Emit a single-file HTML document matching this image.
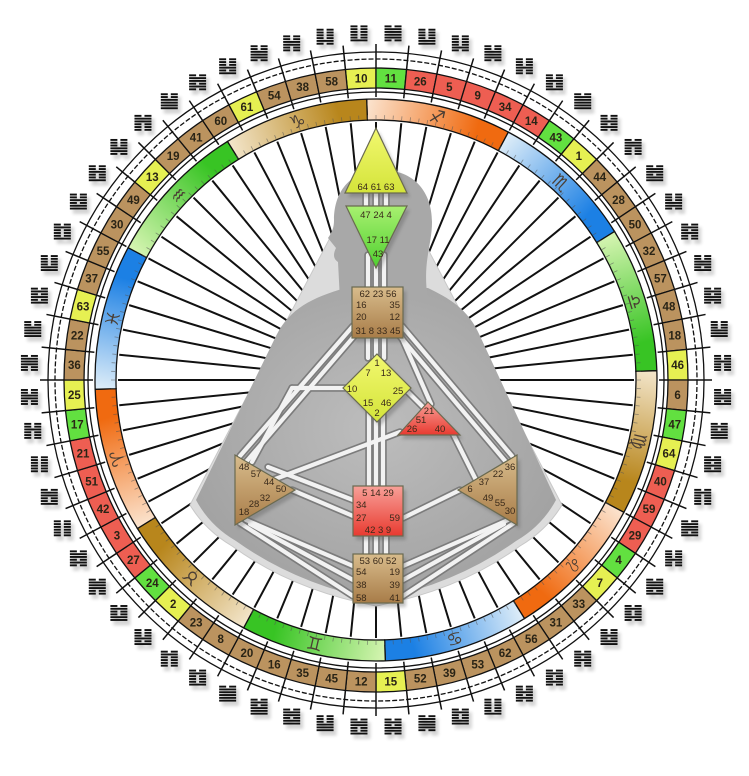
<!DOCTYPE html>
<html><head><meta charset="utf-8"><style>
html,body{margin:0;padding:0;background:#fff;width:749px;height:776px;overflow:hidden}
svg{display:block}
text{font-family:"Liberation Sans","DejaVu Sans",sans-serif}
</style></head><body>
<svg id="s" width="749" height="776" viewBox="0 0 749 776" xmlns="http://www.w3.org/2000/svg">
<defs>
<filter id="bl" x="-50%" y="-50%" width="200%" height="200%"><feGaussianBlur stdDeviation="1.6"/></filter>
<radialGradient id="dk" cx="50%" cy="45%" r="60%"><stop offset="0" stop-color="#bdbdbd"/><stop offset="1" stop-color="#a0a0a0"/></radialGradient>
<linearGradient id="gy" x1="0" y1="0" x2="0" y2="1"><stop offset="0" stop-color="#f2f870"/><stop offset="1" stop-color="#d4e43a"/></linearGradient>
<linearGradient id="gg" x1="0" y1="0" x2="0" y2="1"><stop offset="0" stop-color="#a8f070"/><stop offset="1" stop-color="#4fd030"/></linearGradient>
<linearGradient id="gr" x1="0" y1="0" x2="0" y2="1"><stop offset="0" stop-color="#f8a098"/><stop offset="1" stop-color="#e83a30"/></linearGradient>
<linearGradient id="gb" x1="0" y1="0" x2="0" y2="1"><stop offset="0" stop-color="#d8bc8c"/><stop offset="1" stop-color="#a87c48"/></linearGradient>
</defs>
<g id="root"></g>
</svg>
<script>
(function(){
var NS="http://www.w3.org/2000/svg",root=document.getElementById('root'),defs=document.querySelector('defs');
var cx=376,cy=380;
function P(r,a){var t=a*Math.PI/180;return [cx+r*Math.sin(t),cy-r*Math.cos(t)];}
function el(n,at,par,txt){var e=document.createElementNS(NS,n);for(var k in at)e.setAttribute(k,at[k]);(par||root).appendChild(e);if(txt!=null)e.textContent=txt;return e;}
function sector(r1,r2,a1,a2){var A=P(r2,a1),B=P(r2,a2),C=P(r1,a2),D=P(r1,a1);var lg=(a2-a1)>180?1:0;
return "M"+A[0]+" "+A[1]+"A"+r2+" "+r2+" 0 "+lg+" 1 "+B[0]+" "+B[1]+"L"+C[0]+" "+C[1]+"A"+r1+" "+r1+" 0 "+lg+" 0 "+D[0]+" "+D[1]+"Z";}
var gates=[10,11,26,5,9,34,14,43,1,44,28,50,32,57,48,18,46,6,47,64,40,59,29,4,7,33,31,56,62,53,39,52,15,12,45,35,16,20,8,23,2,24,27,3,42,51,21,17,25,36,22,63,37,55,30,49,13,19,41,60,61,54,38,58];
var Y=[64,61,63,1,7,13,10,25,46,2,15],G=[47,24,4,17,11,43],R=[21,51,26,40,5,14,29,34,27,59,42,3,9];
function col(g){if(Y.indexOf(g)>=0)return "#e6f052";if(G.indexOf(g)>=0)return "#62e040";if(R.indexOf(g)>=0)return "#ee5e52";return "#bb935f";}
var st=5.625;
for(var i=0;i<64;i++){var a=i*st,p1=P(258,a),p2=P(40,a);el('line',{x1:p1[0],y1:p1[1],x2:p2[0],y2:p2[1],stroke:'#111','stroke-width':2});}
for(var i=0;i<64;i++){var a=i*st,p1=P(336,a),p2=P(283,a);el('line',{x1:p1[0],y1:p1[1],x2:p2[0],y2:p2[1],stroke:'#111','stroke-width':1.5});}
for(var i=0;i<64;i++){var g=gates[i];el('path',{d:sector(292,312,(i-1)*st,i*st),fill:col(g),stroke:'#111','stroke-width':1.3});
var c=P(302,(i-0.5)*st);el('text',{x:c[0],y:c[1]+4,'text-anchor':'middle','font-size':'11.5','font-weight':'bold',fill:'#2a2416'},null,g);}
el('circle',{cx:cx,cy:cy,r:288,fill:'none',stroke:'#111','stroke-width':1.3});
el('circle',{cx:cx,cy:cy,r:321,fill:'none',stroke:'#111','stroke-width':1.3,'stroke-dasharray':'5 2'});
el('circle',{cx:cx,cy:cy,r:328,fill:'none',stroke:'#111','stroke-width':1.3});
var signs=[["♐","f"],["♏","w"],["♎","a"],["♍","e"],["♌","f"],["♋","w"],["♊","a"],["♉","e"],["♈","f"],["♓","w"],["♒","a"],["♑","e"]];
var cc={f:["#fbe2cc","#f06a10"],w:["#dcecf8","#1c80e4"],a:["#d4f4b0","#38c424"],e:["#f2e4c8","#b8861c"]};
for(var k=0;k<12;k++){var a1=-1.9+30*k,a2=a1+30,c=cc[signs[k][1]];var s=P(270,a1),e=P(270,a2);
var id='z'+k;var lg=el('linearGradient',{id:id,gradientUnits:'userSpaceOnUse',x1:s[0],y1:s[1],x2:e[0],y2:e[1]},defs);
el('stop',{offset:'0','stop-color':c[0]},lg);el('stop',{offset:'0.8','stop-color':c[1]},lg);el('stop',{offset:'1','stop-color':c[1]},lg);
el('path',{d:sector(260,281,a1,a2),fill:'url(#'+id+')',stroke:'#111','stroke-width':1.3});
var m=(a1+a2)/2,p=P(270,m);el('text',{x:p[0],y:p[1]+6,'text-anchor':'middle','font-size':'18',fill:'#4a3e34','font-family':'DejaVu Sans',transform:'rotate('+m+' '+p[0]+' '+p[1]+')'},null,signs[k][0]);}
for(var t=0;t<360;t+=1.875){var p1=P(261,t),p2=P(265,t);el('line',{x1:p1[0],y1:p1[1],x2:p2[0],y2:p2[1],stroke:'#555','stroke-width':0.8,opacity:0.6});}
for(var i=0;i<64;i++){var g=gates[i],c=P(347,(i-0.5)*st),x0=c[0]-8.5,y0=c[1]-8;
var gs=el('g',{transform:'translate(3,4)',opacity:0.3,filter:'url(#bl)'});var gm=el('g',{});
for(var l=0;l<6;l++){var b=((g*7+l*3+(g>>l))&1),yy=y0+l*2.8;
[gs,gm].forEach(function(pr){var f=pr===gs?'#333':'#111';if(b){el('rect',{x:x0,y:yy,width:17,height:1.9,fill:f},pr);}else{el('rect',{x:x0,y:yy,width:7,height:1.9,fill:f},pr);el('rect',{x:x0+10,y:yy,width:7,height:1.9,fill:f},pr);}});}}
el('path',{d:"M376 150 L190 505 Q205 530 232 546 Q292 590 376 606 Q460 590 520 546 Q547 530 562 505 Z",fill:'#dcdcdc',stroke:'#c8c8c8'});
el('path',{d:"M345 288 C312 298 290 308 276 336 L196 500 Q210 526 236 541 Q296 584 376 600 Q456 584 516 541 Q542 526 556 500 L480 336 C468 308 448 298 428 288 Z",fill:'url(#dk)'});
el('path',{d:"M340 300 L338 262 C332 258 334 252 336 248 L328 238 C332 232 334 228 334 220 C334 190 352 170 382 170 C414 170 432 192 432 222 C432 246 422 262 428 300 Z",fill:'#a8a8a8'});
var ch=[[366,190,366,206],[376,190,376,206],[386,190,386,206],[368,255,368,287],[376,262,376,287],[384,255,384,287],
[368,338,368,358],[376,338,376,355],[384,338,384,358],[369,410,369,486],[376,420,376,486],[383,410,383,486],
[366,536,366,554],[376,536,376,554],[386,536,386,554],
[356,334,246,462],[353,326,240,456],[398,334,506,462],[402,326,512,456],[401,336,431,404],
[346,388,292,388],[292,388,252,462],[408,392,424,408],[400,432,270,481],[452,432,476,480],
[292,490,353,516],[268,467,353,500],[460,490,403,518],
[353,566,246,520],[353,580,250,524],[353,596,240,523],[403,566,508,520],[403,580,504,524],[403,596,514,523]];
[['#7c7c7c',7.5],['#f2f2f2',4.2]].forEach(function(s){ch.forEach(function(c){el('line',{x1:c[0],y1:c[1],x2:c[2],y2:c[3],stroke:s[0],'stroke-width':s[1],'stroke-linecap':'round'});});});
var sk={stroke:'#6a6a50','stroke-width':1.2};
function sh(tag,at){var a=JSON.parse(JSON.stringify(at));a.fill='#555';a.opacity=0.35;a.transform='translate(3,4)';a.filter='url(#bl)';el(tag,a);var b=Object.assign({},at,sk);el(tag,b);}
sh('polygon',{points:"376,128 345,193 407,193",fill:'url(#gy)'});
sh('polygon',{points:"346,206 407,206 376,268",fill:'url(#gg)'});
sh('rect',{x:352,y:287,width:51,height:51,fill:'url(#gb)'});
sh('polygon',{points:"377,354 411,388 377,422 343,388",fill:'url(#gy)'});
sh('polygon',{points:"428,402 398,435 460,435",fill:'url(#gr)'});
sh('polygon',{points:"235,455 235,525 295,490",fill:'url(#gb)'});
sh('polygon',{points:"517,455 517,525 458,490",fill:'url(#gb)'});
sh('rect',{x:353,y:486,width:50,height:50,fill:'url(#gr)'});
sh('rect',{x:353,y:554,width:50,height:49,fill:'url(#gb)'});
var T=[["64 61 63",376,190,'m'],["47 24  4",376,218,'m'],["17 11",378,243,'m'],["43",378,257,'m'],
["62 23 56",378,297,'m'],["16",356,308,'s'],["35",400,308,'e'],["20",356,320,'s'],["12",400,320,'e'],["31 8 33 45",378,334,'m'],
["1",377,366,'m'],["7",368,376,'m'],["13",386,376,'m'],["10",352,392,'m'],["25",398,394,'m'],["15",368,406,'m'],["46",386,406,'m'],["2",377,416,'m'],
["21",429,414,'m'],["51",421,423,'m'],["26",412,432,'m'],["40",440,432,'m'],
["48",244,470,'m'],["57",256,477,'m'],["44",269,485,'m'],["50",281,492,'m'],["32",265,501,'m'],["28",254,507,'m'],["18",244,515,'m'],
["36",510,470,'m'],["22",498,477,'m'],["37",484,485,'m'],["6",470,492,'m'],["49",488,501,'m'],["55",500,506,'m'],["30",510,514,'m'],
["5 14 29",378,496,'m'],["34",356,508,'s'],["27",356,521,'s'],["59",400,521,'e'],["42 3 9",378,533,'m'],
["53 60 52",378,564,'m'],["54",356,575,'s'],["19",400,575,'e'],["38",356,588,'s'],["39",400,588,'e'],["58",356,601,'s'],["41",400,601,'e']];
T.forEach(function(t){el('text',{x:t[1],y:t[2],'text-anchor':t[3]=='m'?'middle':(t[3]=='s'?'start':'end'),'font-size':'9.5',fill:'#3a2a1a'},null,t[0]);});
})();
</script>
</body></html>
